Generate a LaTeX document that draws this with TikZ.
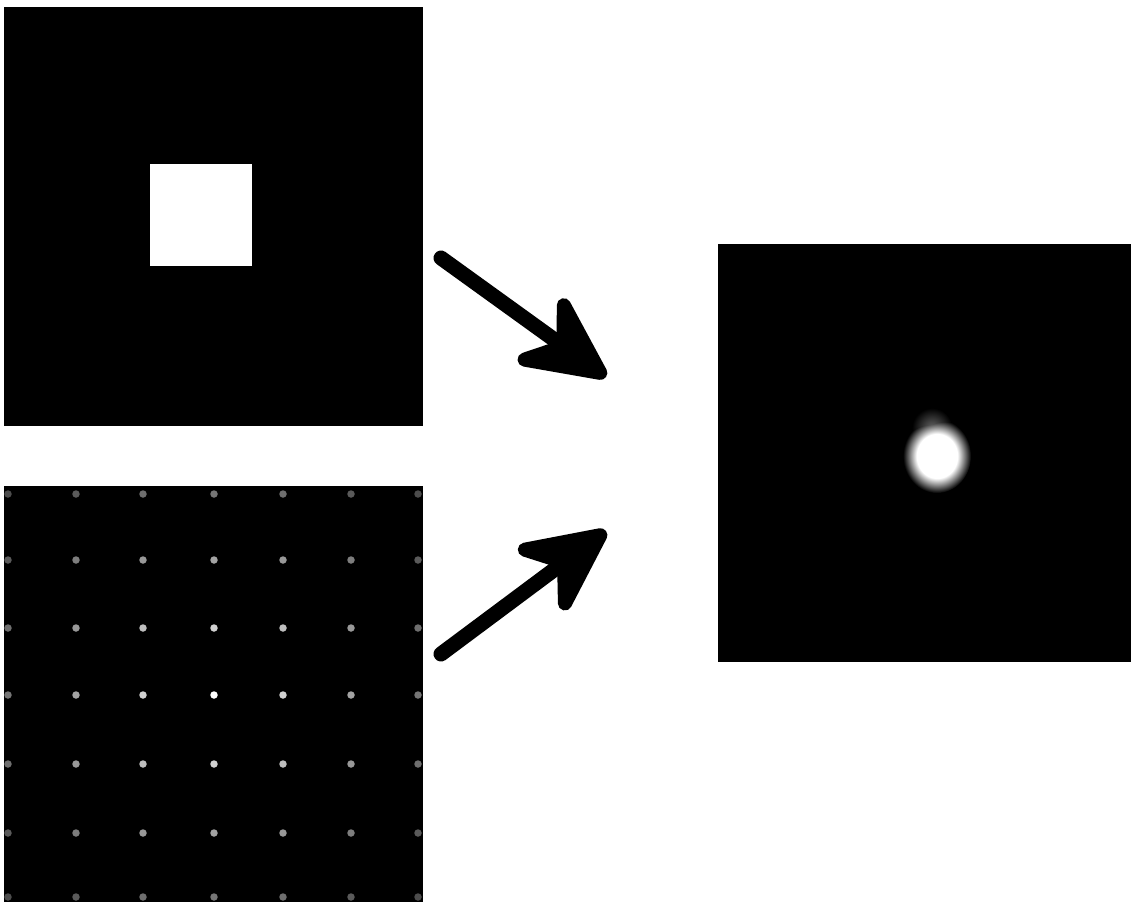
\documentclass[tikz,border=0pt]{standalone}
\usetikzlibrary{arrows.meta, positioning}
\usepackage{xcolor}

\pgfdeclareradialshading{glow}{\pgfpoint{0bp}{0bp}}{color(0bp)=(white); color(15bp)=(white); color(25bp)=(black); color(50bp)=(black)}
\pgfdeclareradialshading{haze}{\pgfpoint{0bp}{0bp}}{color(0bp)=(white!40!black); color(25bp)=(black); color(50bp)=(black)}

\begin{document}
\begin{tikzpicture}[
        x=1pt, y=-1pt,
        % This defines the style of the black images
        img/.style={rectangle, fill=black, inner sep=0pt, draw=none},
        % This defines the style of the grid dots
        spot/.style={circle, inner sep=0pt, minimum size=7.5pt},
        % This defines the style of the thick arrows
        bigarrow/.style={-{Stealth[length=106pt, width=102pt, inset=36pt, round, line width=14pt]}, line width=15pt, line cap=round, draw=black}
    ]
    \useasboundingbox (0,0) rectangle (1131,902);

    % --- THE IMAGES ---
    \node (inA) [img, minimum width=419pt, minimum height=419pt] at (213.5,216.5) {};
    \node (square) [rectangle, fill=white, inner sep=0pt, minimum size=102pt] at (201,215) {};

    \node (inB) [img, minimum width=419pt, minimum height=416pt] at (213.5,694) {};
    \foreach \row/\yy in {0/494, 1/560, 2/628, 3/695, 4/764, 5/833, 6/897} {
        \foreach \col/\xx in {0/8, 1/76, 2/143, 3/214, 4/283, 5/351, 6/418} {
            \pgfmathsetmacro\lev{max(30, 100-18*sqrt((\row-3)^2+(\col-3)^2))}
            \node (dot\row\col) [spot, fill=white!\lev!black] at (\xx,\yy) {};
        }
    }

    \node (out) [img, minimum width=413pt, minimum height=418pt] at (924.5,453) {};
    \begin{scope}[blend group=lighten]
        \shade[shading=haze] (932,428) ellipse (20 and 20);
        \shade[shading=glow] (937,456) ellipse (34 and 37);
    \end{scope}

    % --- THE ARROWS ---
    \coordinate (a1s) at (441,258);
    \coordinate (a1e) at (606,377);
    \coordinate (a2s) at (441,654);
    \coordinate (a2e) at (606,531);
    \draw [bigarrow] (a1s) -- (a1e);
    \draw [bigarrow] (a2s) -- (a2e);

\end{tikzpicture}
\end{document}
